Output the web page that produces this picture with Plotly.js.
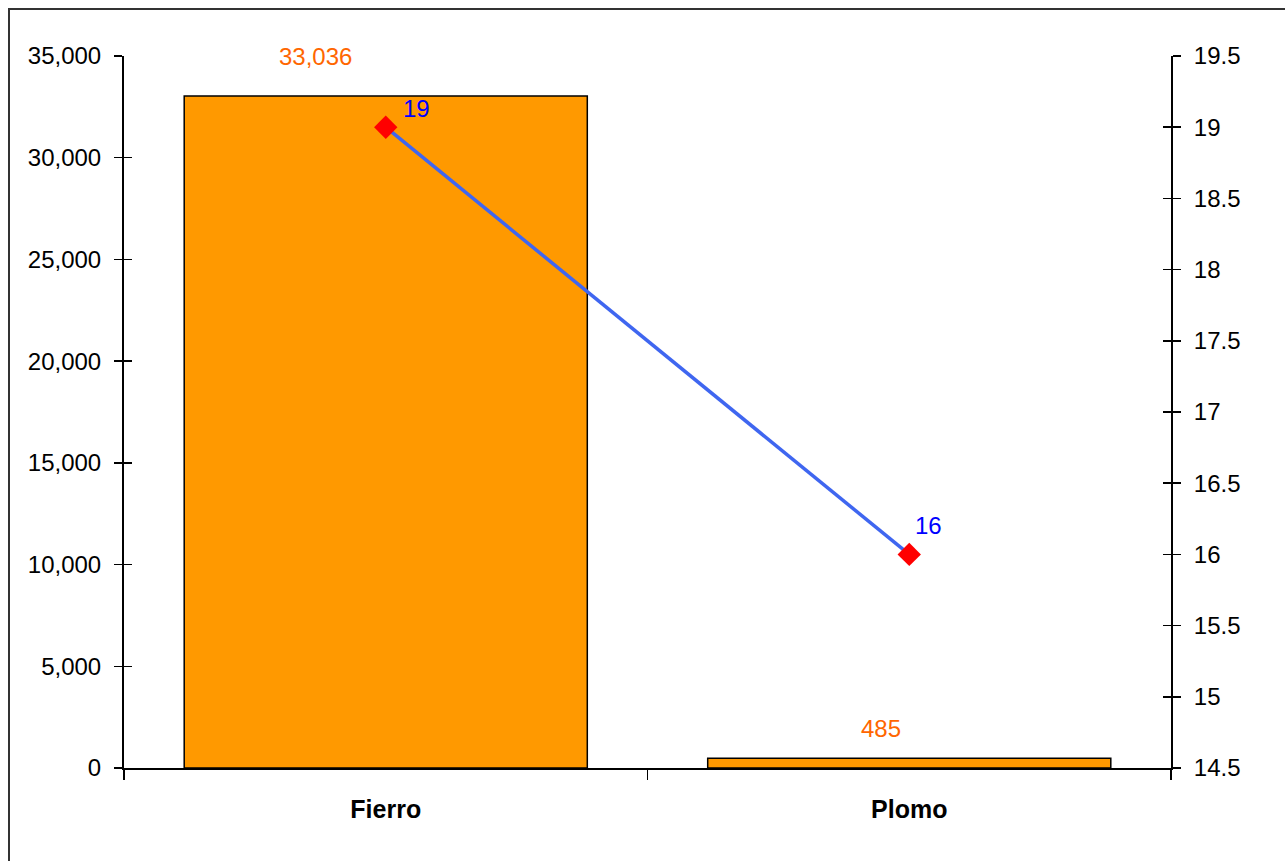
<!DOCTYPE html>
<html>
<head>
<meta charset="utf-8">
<script src="https://cdn.plot.ly/plotly-3.0.1.min.js"></script>
<style>
  html, body { margin: 0; padding: 0; background: #ffffff; }
  #chart { width: 1285px; height: 861px; }
</style>
</head>
<body>
<div id="chart"></div>
<script>
// ---- data ----
const categories = ["Fierro", "Plomo"];
const barValues = [33036, 485];
const lineValues = [19, 16];
const barLabels = ["33,036", "485"];
const lineLabels = ["19", "16"];
const leftTickVals = [0, 5000, 10000, 15000, 20000, 25000, 30000, 35000];
const rightTickVals = [14.5, 15, 15.5, 16, 16.5, 17, 17.5, 18, 18.5, 19, 19.5];

const FONT = "Liberation Sans, Arial, sans-serif";

const barTrace = {
  type: "bar",
  x: categories,
  y: barValues,
  width: 0.77,
  marker: { color: "#FF9900", line: { color: "#000000", width: 1.5 } },
  hoverinfo: "x+y",
  yaxis: "y"
};

const lineTrace = {
  type: "scatter",
  mode: "lines+markers",
  x: categories,
  y: lineValues,
  yaxis: "y2",
  line: { color: "#3F66F0", width: 3.5 },
  marker: { symbol: "diamond", color: "#FF0000", size: 18 }
};

const annotations = [];
categories.forEach((c, i) => {
  annotations.push({
    x: c, y: barValues[i], xref: "x", yref: "y",
    text: barLabels[i], showarrow: false,
    xshift: i === 0 ? -70 : -28, yshift: i === 0 ? 39 : 30,
    font: { family: FONT, size: 24, color: "#FF6600" }
  });
  annotations.push({
    x: c, y: lineValues[i], xref: "x", yref: "y2",
    text: lineLabels[i], showarrow: false,
    xshift: i === 0 ? 31 : 19, yshift: i === 0 ? 19 : 29,
    font: { family: FONT, size: 24, color: "#0000FF" }
  });
});

const axisCommon = {
  showgrid: false, zeroline: false, showline: true,
  linecolor: "#000000", linewidth: 2,
  tickcolor: "#000000", tickwidth: 1.5,
  tickfont: { family: FONT, size: 24, color: "#000000" }
};

const layout = {
  width: 1285, height: 861,
  margin: { l: 124, r: 114, t: 56, b: 93 },
  paper_bgcolor: "#ffffff",
  plot_bgcolor: "#ffffff",
  showlegend: false,
  font: { family: FONT },
  xaxis: Object.assign({}, axisCommon, {
    type: "category",
    ticks: "outside", ticklen: 10, tickson: "boundaries",
    tickfont: { family: FONT, size: 25, color: "#000000", weight: "bold" },
    ticklabelstandoff: 18
  }),
  yaxis: Object.assign({}, axisCommon, {
    range: [0, 35000],
    tickmode: "array", tickvals: leftTickVals,
    tickformat: ",",
    ticks: "outside", ticklen: 8,
    ticklabelstandoff: 8
  }),
  yaxis2: Object.assign({}, axisCommon, {
    overlaying: "y", side: "right",
    range: [14.5, 19.5],
    tickmode: "array", tickvals: rightTickVals,
    ticks: "outside", ticklen: 8,
    ticklabelstandoff: 8
  }),
  yaxis3: Object.assign({}, axisCommon, {
    overlaying: "y", side: "left",
    range: [0, 35000], tickmode: "array", tickvals: leftTickVals,
    showticklabels: false, ticks: "inside", ticklen: 8
  }),
  yaxis4: Object.assign({}, axisCommon, {
    overlaying: "y", side: "right",
    range: [14.5, 19.5], tickmode: "array", tickvals: rightTickVals,
    showticklabels: false, ticks: "inside", ticklen: 8
  }),
  annotations: annotations,
  shapes: [{
    type: "rect", xref: "paper", yref: "paper",
    x0: (9 - 124) / 1047, x1: 1.3,
    y0: -0.3, y1: (768 - 9) / 712,
    line: { color: "#333333", width: 2 },
    fillcolor: "rgba(0,0,0,0)",
    layer: "below"
  }]
};

// invisible helper traces so the overlay tick axes render
const dummy3 = { type: "scatter", x: [categories[0]], y: [0], yaxis: "y3", mode: "markers", marker: { opacity: 0 }, hoverinfo: "skip" };
const dummy4 = { type: "scatter", x: [categories[0]], y: [15], yaxis: "y4", mode: "markers", marker: { opacity: 0 }, hoverinfo: "skip" };

Plotly.newPlot("chart", [barTrace, dummy3, dummy4, lineTrace], layout, { displayModeBar: false, staticPlot: true });
</script>
</body>
</html>
